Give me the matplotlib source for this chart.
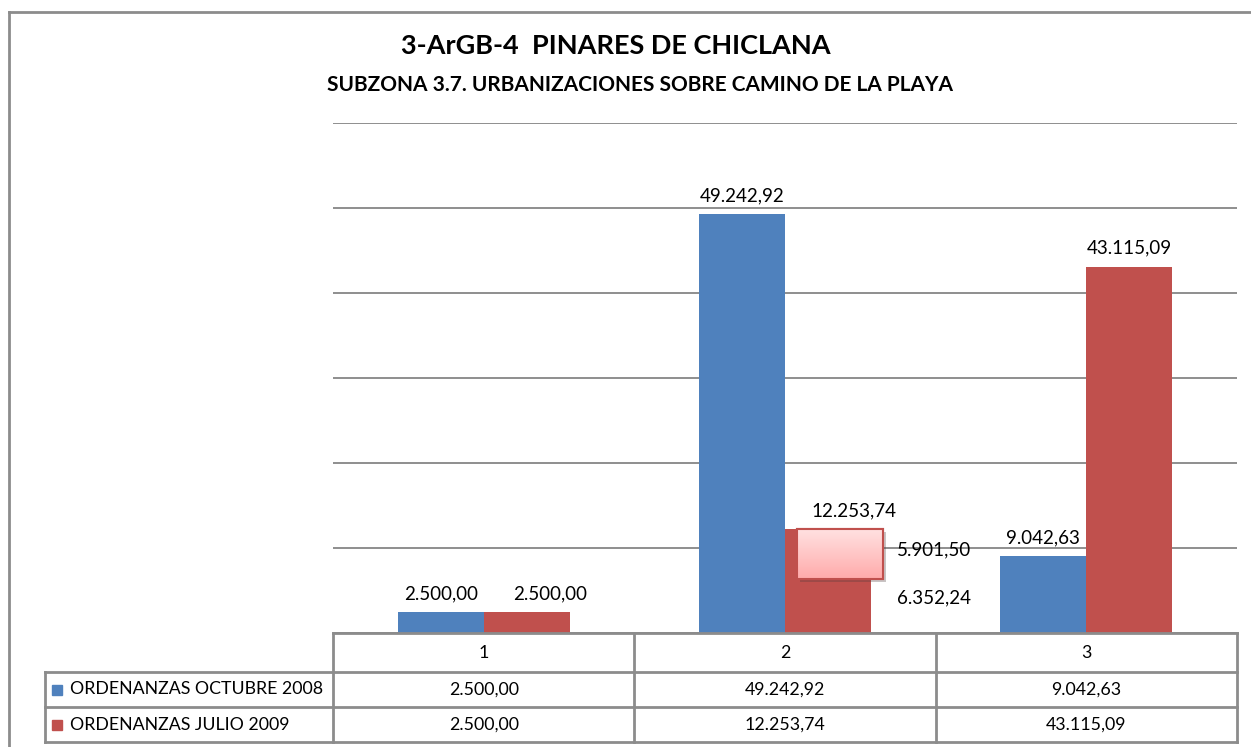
import numpy as np
import matplotlib
matplotlib.use('Agg')
import matplotlib.pyplot as plt
from matplotlib.lines import Line2D
from matplotlib.patches import Rectangle
from matplotlib.colors import LinearSegmentedColormap
import matplotlib.patheffects as pe

# data
categories = ['1', '2', '3']
series_names = ['ORDENANZAS OCTUBRE 2008', 'ORDENANZAS JULIO 2009']
oct_2008 = [2500.00, 49242.92, 9042.63]
jul_2009 = [2500.00, 12253.74, 43115.09]
# desglose de la barra roja de la categoria 2
split_lower = 6352.24
split_upper = 5901.50

colors = ['#4F81BD', '#C0504D']
grid_color = '#868686'
frame_color = '#8c8c8c'

plt.rcParams['font.family'] = ['Lato', 'DejaVu Sans']


def fmt(v):
    s = f'{v:,.2f}'
    return s.replace(',', '#').replace('.', ',').replace('#', '.')


W, H = 1251, 747
fig = plt.figure(figsize=(W / 100, H / 100), dpi=100)


def fx(px):
    return px / W


def fy(py):
    return 1 - py / H


# outer frame
fig.add_artist(Line2D([fx(9), 1.0], [fy(12), fy(12)], color=frame_color, lw=2))
fig.add_artist(Line2D([fx(9), fx(9)], [fy(12), 0.0], color=frame_color, lw=2))

# titles
fig.text(fx(616), fy(46), '3-ArGB-4  PINARES DE CHICLANA', ha='center', va='center',
         fontsize=19.5, fontweight='bold')
fig.text(fx(640), fy(85), 'SUBZONA 3.7. URBANIZACIONES SOBRE CAMINO DE LA PLAYA',
         ha='center', va='center', fontsize=15, fontweight='bold')

# plot area
left, right, top, base = 333, 1237, 123, 633
ax = fig.add_axes([fx(left), fy(base), (right - left) / W, (base - top) / H])
n = len(categories)
x = np.arange(n)
cat_px = (right - left) / n
bw = 86 / cat_px
ax.set_xlim(-0.5, n - 0.5)
ax.set_ylim(0, 60000)

ax.bar(x - bw / 2, oct_2008, bw, color=colors[0], zorder=2)
ax.bar(x + bw / 2, jul_2009, bw, color=colors[1], zorder=2)

ax.set_yticks(np.arange(0, 60001, 10000))
ax.yaxis.grid(True, color=grid_color, lw=1.3, zorder=0)
ax.set_axisbelow(True)
ax.tick_params(left=False, bottom=False, labelleft=False, labelbottom=False)
for s in ax.spines.values():
    s.set_visible(False)

lab_fs = 13.5
# desplazamiento horizontal de etiquetas (pt) para evitar solapes, como en Excel
shift_oct = [0, 0, 0]
shift_jul = [17, 19, 0]
for i in range(n):
    ax.annotate(fmt(oct_2008[i]), (x[i] - bw / 2, oct_2008[i]), xytext=(shift_oct[i], 7),
                textcoords='offset points', ha='center', va='bottom', fontsize=lab_fs)
    ax.annotate(fmt(jul_2009[i]), (x[i] + bw / 2, jul_2009[i]), xytext=(shift_jul[i], 7),
                textcoords='offset points', ha='center', va='bottom', fontsize=lab_fs)

# caja desplazada (segmento superior)
bx = 1 + bw / 2 + 12 / cat_px
box = Rectangle((bx - bw / 2, split_lower), bw, split_upper, facecolor='#ffc8c8',
                edgecolor='#c0504d', lw=1.5, zorder=4,
                path_effects=[pe.SimplePatchShadow(offset=(2.5, -2.5), alpha=0.3), pe.Normal()])
ax.add_patch(box)
grad = np.linspace(0, 1, 64).reshape(-1, 1)
cmap = LinearSegmentedColormap.from_list('pk', ['#ffe2e2', '#ffabab'])
im = ax.imshow(grad, extent=(bx - bw / 2, bx + bw / 2, split_lower, split_lower + split_upper),
               cmap=cmap, aspect='auto', zorder=5, origin='upper')
im.set_clip_path(box)
ax.add_patch(Rectangle((bx - bw / 2, split_lower), bw, split_upper, facecolor='none',
                       edgecolor='#c0504d', lw=1.5, zorder=6))
ax.set_xlim(-0.5, n - 0.5)
ax.set_ylim(0, 60000)
ax.annotate(fmt(split_upper), (bx + bw / 2, split_lower + split_upper / 2), xytext=(10, 3),
            textcoords='offset points', ha='left', va='center', fontsize=lab_fs, zorder=7)
ax.annotate(fmt(split_lower), (bx + bw / 2, split_lower / 2), xytext=(10, 6),
            textcoords='offset points', ha='left', va='center', fontsize=lab_fs, zorder=7)

# data table
tleft, tbot = 45, 742
tax = fig.add_axes([fx(tleft), fy(tbot), (right - tleft) / W, (tbot - base) / H])
tax.axis('off')
xl = -0.5 - (left - tleft) / cat_px
tax.set_xlim(xl, n - 0.5)
tax.set_ylim(tbot - base, 0)
rows = [0, 39, 74, 109]
lkw = dict(color=frame_color, lw=2, clip_on=False, solid_capstyle='projecting')
tax.plot([-0.5, n - 0.5], [0, 0], **lkw)
for r in rows[1:]:
    tax.plot([xl, n - 0.5], [r, r], **lkw)
for v in np.arange(-0.5, n, 1.0):
    tax.plot([v, v], [0, rows[-1]], **lkw)
tax.plot([xl, xl], [rows[1], rows[-1]], **lkw)

tab_fs = 12.8
for i, c in enumerate(categories):
    tax.text(i, (rows[0] + rows[1]) / 2, c, ha='center', va='center', fontsize=tab_fs)
for k, vals in enumerate([oct_2008, jul_2009]):
    yc = (rows[k + 1] + rows[k + 2]) / 2
    for i, v in enumerate(vals):
        tax.text(i, yc, fmt(v), ha='center', va='center', fontsize=tab_fs)
    tax.plot([xl + 12 / cat_px], [yc], marker='s', ms=7, color=colors[k], clip_on=False)
    tax.text(xl + 25 / cat_px, yc, series_names[k], ha='left', va='center', fontsize=tab_fs)

fig.savefig('out.png', dpi=100)
